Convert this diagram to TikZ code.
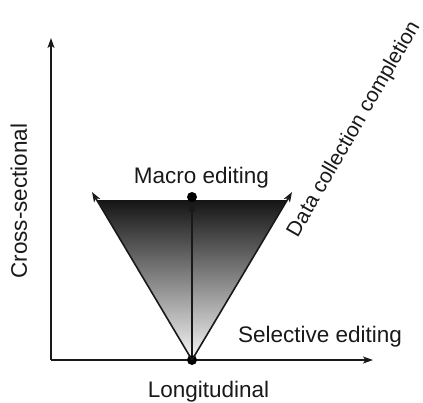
\documentclass[tikz,border=0pt]{standalone}
\usepackage{fontspec}
\setmainfont{Liberation Sans}
\usetikzlibrary{arrows.meta}
\begin{document}
\begin{tikzpicture}[x=1pt,y=-1pt,
  axisline/.style={line width=1.6pt,draw=black!90},
  arr/.style={-{Stealth[length=10pt,width=7pt,inset=2.5pt]}},
  dotnode/.style={circle,fill=black,inner sep=0pt,minimum size=10pt},
  lbl/.style={font=\fontsize{22.5}{24}\selectfont,inner sep=0pt,text=black!90}]
\useasboundingbox (0,0) rectangle (423,402);
% coordinates
\coordinate (O) at (51,360);
\coordinate (Ytop) at (51,38);
\coordinate (Xend) at (373,360);
\coordinate (Lt) at (92,192);
\coordinate (Rt) at (292,192);
\coordinate (FL) at (96.8,200);
\coordinate (FR) at (287.2,200);
% shaded triangle
\shade[top color=black!92,bottom color=black!3] (192,360) -- (FL) -- (FR) -- cycle;
% axes
\draw[axisline,arr] (O) -- (Ytop);
\draw[axisline,arr] (O) -- (Xend);
% dots
\node[dotnode] (apex) at (192,360) {};
\node[dotnode] (top) at (192,197) {};
% triangle sides
\draw[axisline,arr] (apex.center) -- (Lt);
\draw[axisline,arr] (apex.center) -- (Rt);
\draw[axisline,arr] (apex) -- (top);
% labels
\node[lbl,anchor=base] (macro) at (201.5,183) {Macro editing};
\node[lbl,anchor=base] (sel) at (320,342) {Selective editing};
\node[lbl,anchor=base] (lon) at (208.5,397) {Longitudinal};
\node[lbl,anchor=base,rotate=90] (cross) at (27,201) {Cross-sectional};
\node[lbl,font=\fontsize{21}{23}\selectfont,anchor=base,rotate=60] (data) at (359,132) {Data collection completion};
\end{tikzpicture}
\end{document}
